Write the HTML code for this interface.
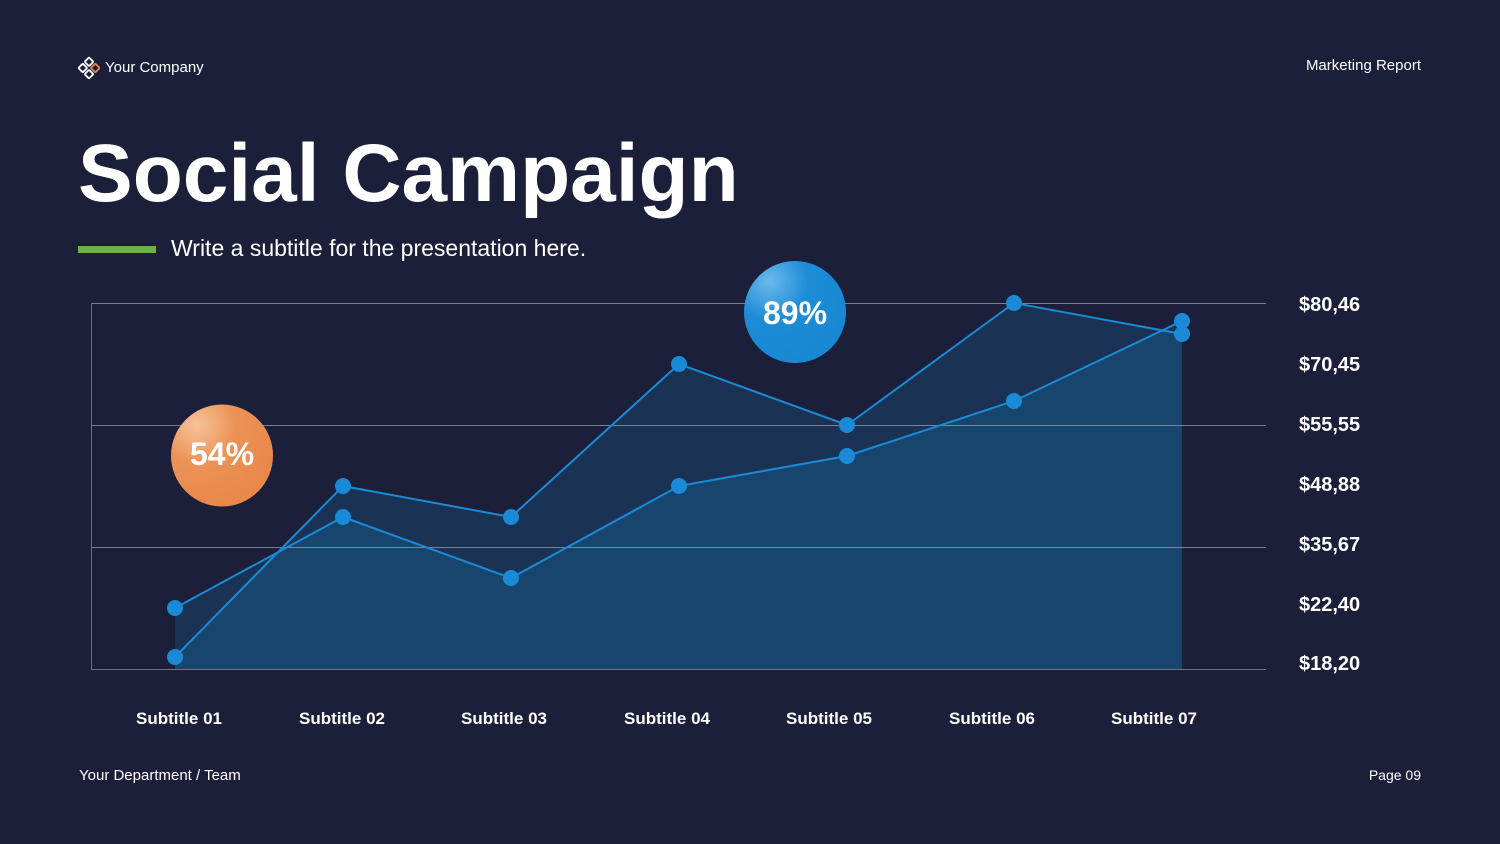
<!DOCTYPE html>
<html>
<head>
<meta charset="utf-8">
<style>
  html, body { margin: 0; padding: 0; background: #1c1f3a; }
  body { width: 1500px; height: 844px; overflow: hidden; }
  svg { display: block; }
  text { font-family: "Liberation Sans", sans-serif; fill: #ffffff; }
</style>
</head>
<body>
<svg width="1500" height="844" viewBox="0 0 1500 844" xmlns="http://www.w3.org/2000/svg">
  <defs>
    <radialGradient id="og" cx="0.25" cy="0.2" r="0.85">
      <stop offset="0" stop-color="#f6c39a"/>
      <stop offset="0.45" stop-color="#ec9256"/>
      <stop offset="1" stop-color="#e8884a"/>
    </radialGradient>
    <radialGradient id="bg" cx="0.25" cy="0.2" r="0.85">
      <stop offset="0" stop-color="#6bb9ec"/>
      <stop offset="0.45" stop-color="#1d8cd6"/>
      <stop offset="1" stop-color="#1888d2"/>
    </radialGradient>
    <clipPath id="clipA">
      <path d="M175,669 L175,657 L343,486 L511,517 L679,364 L847,425 L1014,303 L1182,334 L1182,669 Z"/>
    </clipPath>
  </defs>

  <rect x="0" y="0" width="1500" height="844" fill="#1c1f3a"/>

  <!-- Logo -->
  <g transform="rotate(45 89 68)">
    <rect x="81.5" y="60.5" width="6.2" height="6.2" rx="1" fill="none" stroke="#ffffff" stroke-width="1.8"/>
    <rect x="90.3" y="60.5" width="6.2" height="6.2" rx="1" fill="none" stroke="#e8884a" stroke-width="1.8"/>
    <rect x="81.5" y="69.3" width="6.2" height="6.2" rx="1" fill="none" stroke="#ffffff" stroke-width="1.8"/>
    <rect x="90.3" y="69.3" width="6.2" height="6.2" rx="1" fill="none" stroke="#ffffff" stroke-width="1.8"/>
  </g>
  <text x="105" y="72" font-size="15">Your Company</text>
  <text x="1421" y="70" font-size="15" text-anchor="end">Marketing Report</text>

  <!-- Title -->
  <text x="78" y="201" font-size="82" font-weight="bold">Social Campaign</text>
  <rect x="78" y="246" width="78" height="7" fill="#6ab04c"/>
  <text x="171" y="256" font-size="23">Write a subtitle for the presentation here.</text>

  <!-- Areas -->
  <path d="M175,669 L175,657 L343,486 L511,517 L679,364 L847,425 L1014,303 L1182,334 L1182,669 Z" fill="#1a3254"/>
  <path d="M175,669 L175,608 L343,517 L511,578 L679,486 L847,456 L1014,401 L1182,321 L1182,669 Z" fill="#1a3254"/>
  <path d="M175,669 L175,608 L343,517 L511,578 L679,486 L847,456 L1014,401 L1182,321 L1182,669 Z" fill="#17456d" clip-path="url(#clipA)"/>

  <!-- Grid -->
  <g stroke="#9a9db0" stroke-width="1" opacity="0.75">
    <line x1="91" y1="303.5" x2="1266" y2="303.5"/>
    <line x1="91" y1="425.5" x2="1266" y2="425.5"/>
    <line x1="91" y1="547.5" x2="1266" y2="547.5"/>
  </g>
  <g stroke="#6e7285" stroke-width="1">
    <line x1="91" y1="669.5" x2="1266" y2="669.5"/>
    <line x1="91.5" y1="303" x2="91.5" y2="670"/>
  </g>

  <!-- Lines -->
  <polyline points="175,657 343,486 511,517 679,364 847,425 1014,303 1182,334" fill="none" stroke="#1b8ad6" stroke-width="2"/>
  <polyline points="175,608 343,517 511,578 679,486 847,456 1014,401 1182,321" fill="none" stroke="#1b8ad6" stroke-width="2"/>

  <!-- Points -->
  <g fill="#1b8ad6">
    <circle cx="175" cy="657" r="8"/>
    <circle cx="343" cy="486" r="8"/>
    <circle cx="511" cy="517" r="8"/>
    <circle cx="679" cy="364" r="8"/>
    <circle cx="847" cy="425" r="8"/>
    <circle cx="1014" cy="303" r="8"/>
    <circle cx="1182" cy="334" r="8"/>
    <circle cx="175" cy="608" r="8"/>
    <circle cx="343" cy="517" r="8"/>
    <circle cx="511" cy="578" r="8"/>
    <circle cx="679" cy="486" r="8"/>
    <circle cx="847" cy="456" r="8"/>
    <circle cx="1014" cy="401" r="8"/>
    <circle cx="1182" cy="321" r="8"/>
  </g>

  <!-- Bubbles -->
  <circle cx="222" cy="455.5" r="51" fill="url(#og)"/>
  <text x="222" y="465" font-size="32" font-weight="bold" text-anchor="middle">54%</text>
  <circle cx="795" cy="312" r="51" fill="url(#bg)"/>
  <text x="795" y="324" font-size="32" font-weight="bold" text-anchor="middle">89%</text>

  <!-- Y labels -->
  <g font-size="20" font-weight="bold">
    <text x="1299" y="311">$80,46</text>
    <text x="1299" y="371">$70,45</text>
    <text x="1299" y="431">$55,55</text>
    <text x="1299" y="491">$48,88</text>
    <text x="1299" y="551">$35,67</text>
    <text x="1299" y="611">$22,40</text>
    <text x="1299" y="670">$18,20</text>
  </g>

  <!-- X labels -->
  <g font-size="17" font-weight="bold" text-anchor="middle">
    <text x="179" y="724">Subtitle 01</text>
    <text x="342" y="724">Subtitle 02</text>
    <text x="504" y="724">Subtitle 03</text>
    <text x="667" y="724">Subtitle 04</text>
    <text x="829" y="724">Subtitle 05</text>
    <text x="992" y="724">Subtitle 06</text>
    <text x="1154" y="724">Subtitle 07</text>
  </g>

  <!-- Footer -->
  <text x="79" y="780" font-size="15">Your Department / Team</text>
  <text x="1421" y="780" font-size="14" text-anchor="end">Page 09</text>
</svg>
</body>
</html>
